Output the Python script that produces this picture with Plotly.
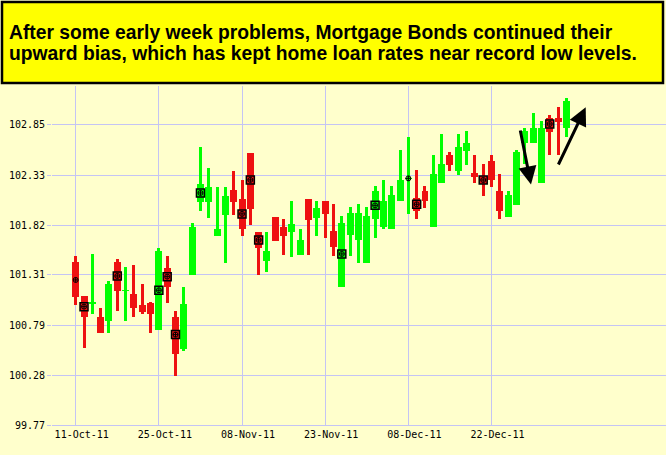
import plotly.graph_objects as go

# ---------------- data ----------------
dates = [
    "2011-10-11", "2011-10-12", "2011-10-13", "2011-10-14", "2011-10-17", "2011-10-18",
    "2011-10-19", "2011-10-20", "2011-10-21", "2011-10-24", "2011-10-25", "2011-10-26",
    "2011-10-27", "2011-10-28", "2011-10-31", "2011-11-01", "2011-11-02", "2011-11-03",
    "2011-11-04", "2011-11-07", "2011-11-08", "2011-11-09", "2011-11-10", "2011-11-14",
    "2011-11-15", "2011-11-16", "2011-11-17", "2011-11-18", "2011-11-21", "2011-11-22",
    "2011-11-23", "2011-11-25", "2011-11-28", "2011-11-29", "2011-11-30", "2011-12-01",
    "2011-12-02", "2011-12-05", "2011-12-06", "2011-12-07", "2011-12-08", "2011-12-09",
    "2011-12-12", "2011-12-13", "2011-12-14", "2011-12-15", "2011-12-16", "2011-12-19",
    "2011-12-20", "2011-12-21", "2011-12-22", "2011-12-23", "2011-12-27", "2011-12-28",
    "2011-12-29", "2011-12-30", "2012-01-03", "2012-01-04", "2012-01-05", "2012-01-06",
]
opens = [
    101.44, 101.09, 101.015, 100.88, 100.835, 101.44, 101.145, 101.115, 101.005, 101.025,
    100.745, 101.385, 100.88, 100.555, 101.305, 102.055, 102.055, 101.715, 101.93, 102.185,
    102.095, 102.565, 101.755, 101.455, 101.91, 101.805, 101.75, 101.52, 102.095, 101.90,
    102.065, 101.76, 101.19, 101.72, 101.665, 101.435, 101.88, 101.805, 101.785, 102.065,
    102.295, 102.10, 102.17, 101.805, 102.25, 102.54, 102.38, 102.585, 102.355, 102.315,
    102.48, 102.17, 101.91, 102.03, 102.66, 102.66, 102.25, 102.92, 102.92, 102.815,
]
highs = [
    101.50, 101.09, 101.53, 100.975, 101.25, 101.47, 101.39, 101.41, 101.22, 101.03,
    101.59, 101.50, 100.945, 101.19, 101.84, 102.62, 102.41, 102.215, 102.215, 102.38,
    102.28, 102.565, 101.755, 101.755, 101.91, 101.88, 102.065, 101.785, 102.095, 102.065,
    102.065, 102.04, 101.915, 102.01, 102.04, 102.01, 102.225, 102.285, 102.225, 102.595,
    102.73, 102.39, 102.225, 102.54, 102.76, 102.575, 102.76, 102.79, 102.54, 102.45,
    102.54, 102.345, 102.17, 102.595, 102.82, 102.97, 102.89, 102.95, 103.03, 103.13,
]
lows = [
    101.00, 100.56, 100.91, 100.715, 100.715, 100.94, 100.835, 100.875, 100.905, 100.715,
    100.745, 101.02, 100.27, 100.525, 101.305, 101.965, 101.90, 101.715, 101.43, 101.93,
    101.715, 101.825, 101.305, 101.34, 101.655, 101.52, 101.49, 101.52, 101.52, 101.715,
    101.69, 101.50, 101.19, 101.50, 101.435, 101.435, 101.69, 101.785, 101.785, 102.065,
    101.94, 101.88, 102.00, 101.805, 102.25, 102.38, 102.335, 102.44, 102.25, 102.125,
    102.215, 101.88, 101.91, 102.03, 102.45, 102.66, 102.25, 102.54, 102.54, 102.725,
]
closes = [
    101.08, 100.88, 101.03, 100.715, 101.22, 101.15, 101.16, 100.97, 100.935, 100.905,
    101.56, 101.185, 100.495, 101.01, 101.805, 102.245, 102.215, 101.785, 102.125, 102.055,
    101.78, 101.99, 101.585, 101.56, 101.655, 101.715, 101.835, 101.665, 101.87, 102.00,
    101.935, 101.595, 101.845, 101.945, 101.945, 101.915, 102.17, 102.07, 102.13, 102.285,
    102.31, 101.97, 102.065, 102.345, 102.45, 102.44, 102.625, 102.67, 102.315, 102.25,
    102.28, 101.97, 102.13, 102.575, 102.79, 102.815, 102.815, 102.78, 102.885, 103.095,
]
# flagged sessions (boxed = framed marker)
marker_idx = [0, 1, 5, 10, 11, 12, 15, 20, 21, 22, 32, 36, 40, 41, 49, 57]
marker_vals = [101.259, 100.985, 101.30, 101.153, 101.293, 100.698, 102.152, 101.937,
               102.286, 101.67, 101.526, 102.025, 102.302, 102.036, 102.285, 102.86]
marker_boxed = [False, True, True, True, True, True, True, True,
                True, True, True, True, False, True, True, True]

tick_dates = ["2011-10-11", "2011-10-25", "2011-11-08", "2011-11-23", "2011-12-08", "2011-12-22"]
tick_labels = ["11-Oct-11", "25-Oct-11", "08-Nov-11", "23-Nov-11", "08-Dec-11", "22-Dec-11"]
y_ticks = [99.77, 100.28, 100.79, 101.31, 101.82, 102.33, 102.85]
title_lines = [
    "After some early week problems, Mortgage Bonds continued their",
    "upward bias, which has kept home loan rates near record low levels.",
]

# ---------------- styles ----------------
W, H = 666, 455
ML, MR, MT, MB = 52, 0, 86, 30
GREEN = "#00FF00"
RED = "#EE1111"
GRID = "#C4C4F4"
BG = "#FFFFCC"

pw = W - ML - MR
ph = H - MT - MB


def px2x(px):
    return (px - ML) / pw


def py2y(py):
    return (H - MB - py) / ph


up = [c >= o for o, c in zip(opens, closes)]
colors = [GREEN if u else RED for u in up]

fig = go.Figure()
# wicks
fig.add_trace(go.Bar(
    x=dates, base=lows, y=[h - l for h, l in zip(highs, lows)],
    width=0.36, marker=dict(color=colors, line=dict(width=0)), hoverinfo="skip",
))
# bodies
body_base = [min(o, c) for o, c in zip(opens, closes)]
body_len = [max(abs(c - o), 0.012) for o, c in zip(opens, closes)]
fig.add_trace(go.Bar(
    x=dates, base=body_base, y=body_len,
    width=0.84, marker=dict(color=colors, line=dict(width=0)), hoverinfo="skip",
))
# markers
bx = [dates[i] for i, b in zip(marker_idx, marker_boxed) if b]
by = [v for v, b in zip(marker_vals, marker_boxed) if b]
bc = [colors[i] for i, b in zip(marker_idx, marker_boxed) if b]
fig.add_trace(go.Scatter(
    x=bx, y=by, mode="markers", hoverinfo="skip",
    marker=dict(symbol="square", size=8, color=bc, line=dict(color="#000000", width=1.5)),
))
fig.add_trace(go.Scatter(
    x=[dates[i] for i in marker_idx], y=marker_vals, mode="markers", hoverinfo="skip",
    marker=dict(symbol="circle-cross-open", size=5, color="#000000", line=dict(color="#000000", width=1)),
))

axis_font = dict(family="DejaVu Sans Mono", size=10, color="#000000")
fig.update_xaxes(
    type="category", range=[-2.85, 70.98],
    tickmode="array", tickvals=tick_dates, ticktext=tick_labels,
    ticklabelshift=6,
    showgrid=True, gridcolor=GRID, gridwidth=1,
    showline=True, linecolor=GRID, linewidth=1,
    ticks="", tickfont=axis_font, zeroline=False,
)
fig.update_yaxes(
    range=[99.77, 103.25],
    tickmode="array", tickvals=y_ticks, ticktext=[f"{v:.2f}" for v in y_ticks],
    showgrid=True, gridcolor=GRID, gridwidth=1,
    ticks="outside", ticklen=4, tickcolor=GRID,
    showline=False, tickfont=axis_font, zeroline=False,
)

shapes = [dict(
    type="rect", xref="paper", yref="paper",
    x0=px2x(2), x1=px2x(663), y0=py2y(83), y1=py2y(2),
    line=dict(color="#000000", width=2.5), fillcolor="#FFFF00", layer="above",
)]
annotations = []
for line, cy in zip(title_lines, [32.5, 53.5]):
    annotations.append(dict(
        text=f"<b>{line}</b>", xref="paper", yref="paper",
        x=px2x(7), y=py2y(cy), xanchor="left", yanchor="middle", showarrow=False,
        font=dict(family="Liberation Sans, Arial", size=19.3, color="#000000"),
    ))
for (hx, hy), (ax, ay) in [((531, 184.5), (-11, -55.5)), ((585.7, 107.3), (-28, 58.7))]:
    annotations.append(dict(
        text="", xref="paper", yref="paper", x=px2x(hx), y=py2y(hy),
        ax=ax, ay=ay, showarrow=True, arrowhead=2, arrowsize=1.2, arrowwidth=3,
        arrowcolor="#000000", standoff=0,
    ))

fig.update_layout(
    width=W, height=H, margin=dict(l=ML, r=MR, t=MT, b=MB, pad=0),
    paper_bgcolor=BG, plot_bgcolor=BG, showlegend=False,
    barmode="overlay", bargap=0,
    shapes=shapes, annotations=annotations,
)
fig.write_html(
    "out.html",
    config={"displayModeBar": False, "staticPlot": True},
    post_script="document.body.style.margin='0';document.body.style.background='#FFFFCC';"
                "document.documentElement.style.overflow='hidden';",
)
